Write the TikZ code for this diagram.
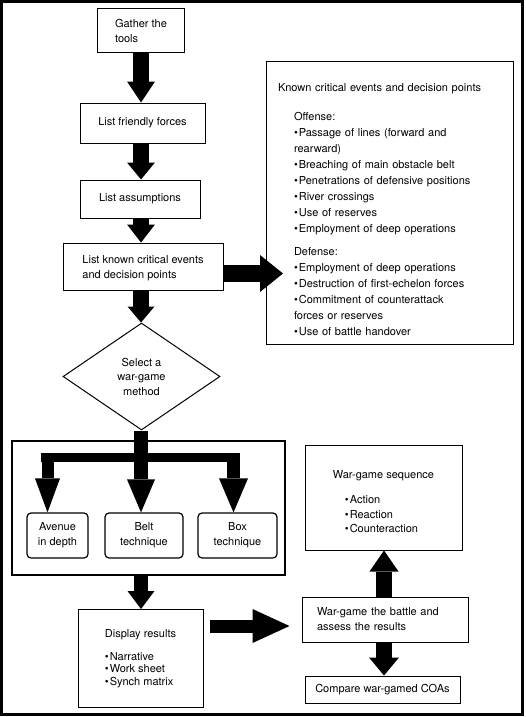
\documentclass[tikz,border=0pt]{standalone}
\usepackage{fontspec}
\setmainfont{TeX Gyre Heros}
\usepackage{tikz}
\usetikzlibrary{shapes.geometric}
\usetikzlibrary{arrows.meta, positioning}
\newcommand{\bul}{\textbullet\kern1pt}

\begin{document}
\begin{tikzpicture}[x=1pt, y=-1pt,
		every node/.style={font=\fontsize{11}{15}\selectfont},
		stepbox/.style 2 args={
			draw,
			line width=1pt,
			inner sep=0pt,
			minimum width=#1,
			minimum height=#2,
			align=left},
		techbox/.style={
			stepbox={#1}{45pt},
			rounded corners=4pt,
			line width=1.2pt,
			align=center},
		fat/.style n args={3}{
			line width=#1,
			-{Triangle[width=#2, length=#3, line width=0pt]}}
		]
		\useasboundingbox (0,0) rectangle (525,717);
		\draw[line width=3pt] (1.5,1.5) rectangle (522.5,714.5);
		% left column
		\node[stepbox={87pt}{44pt}] (gather) at (141, 30.5) {Gather the\\tools};
		\node[stepbox={125pt}{40pt}, align=center] (friendly) at (142.5, 123) {List friendly forces};
		\node[stepbox={120pt}{38pt}, align=center] (assume) at (140, 199) {List assumptions};
		\node[stepbox={160pt}{47pt}] (known) at (143, 266.5) {\rule{0pt}{12pt}List known critical events\\and decision points};
		\node[draw, line width=1pt, inner ysep=0pt, inner xsep=12pt, text width=223pt, minimum height=282pt,
			align=left, font=\fontsize{11}{16}\selectfont] (events) at (389.5, 203) {\rule{0pt}{22pt}Known critical events and decision points\\[13pt]
			\hspace*{16pt}Offense:\\
			\hspace*{16pt}\bul Passage of lines (forward and\\
			\hspace*{16pt}rearward)\\
			\hspace*{16pt}\bul Breaching of main obstacle belt\\
			\hspace*{16pt}\bul Penetrations of defensive positions\\
			\hspace*{16pt}\bul River crossings\\
			\hspace*{16pt}\bul Use of reserves\\
			\hspace*{16pt}\bul Employment of deep operations\\[7pt]
			\hspace*{16pt}Defense:\\
			\hspace*{16pt}\bul Employment of deep operations\\
			\hspace*{16pt}\bul Destruction of first-echelon forces\\
			\hspace*{16pt}\bul Commitment of counterattack\\
			\hspace*{16pt}forces or reserves\\
			\hspace*{16pt}\bul Use of battle handover};
		\node[diamond, draw, line width=1pt, inner sep=0pt, minimum width=157pt, minimum height=107pt,
			align=center, font=\fontsize{11}{14.5}\selectfont] (method) at (141.5, 376.5) {Select a\\war-game\\method};
		% war-game methods
		\node[draw, line width=1.2pt, minimum width=273pt, minimum height=134pt] (methods) at (148.5, 508) {};
		\node[techbox=61pt] (avenue) at (57.5, 535.5) {Avenue\\in depth};
		\node[techbox=78pt] (belt) at (144, 535.5) {Belt\\technique};
		\node[techbox=79pt] (boxtech) at (237.5, 535.5) {Box\\technique};
		\node[stepbox={125pt}{98pt}, font=\fontsize{11}{12.5}\selectfont] (display) at (140.5, 658.5)
			{Display results\\[10pt]\bul Narrative\\\bul Work sheet\\\bul Synch matrix};
		% right column
		\node[stepbox={157pt}{105pt}, font=\fontsize{11}{14.5}\selectfont] (sequence) at (383.5, 497.5)
			{\rule{0pt}{16pt}War-game sequence\\[11pt]\hspace*{12pt}\bul Action\\\hspace*{12pt}\bul Reaction\\\hspace*{12pt}\bul Counteraction};
		\node[draw, line width=1pt, inner ysep=0pt, inner xsep=15pt, text width=136pt, minimum height=45pt,
			align=left] (wargame) at (385, 619.5) {War-game the battle and\\assess the results};
		\node[stepbox={155pt}{27pt}, align=center] (compare) at (382.5, 689.5) {Compare war-gamed COAs};
		% block arrows
		\coordinate (col) at (141, 0);
		\coordinate (col2) at (384, 0);
		\coordinate (evtip) at (283, 273.5);
		\coordinate (res) at (0, 626);
		\coordinate (barL) at (41, 457.5);
		\coordinate (barR) at (240, 457.5);
		\coordinate (forkL) at (47.5, 453);
		\coordinate (forkR) at (233.5, 453);
		\draw[fat={16pt}{28pt}{21pt}] (col |- gather.south) -- (col |- friendly.north);
		\draw[fat={16pt}{28pt}{17pt}] (col |- friendly.south) -- (col |- assume.north);
		\draw[fat={16pt}{28pt}{18pt}] (col |- assume.south) -- (col |- known.north);
		\draw[fat={16pt}{27pt}{16pt}] (col |- known.south) -- (col |- method.north);
		\draw[fat={17pt}{37pt}{23pt}] (known.east |- evtip) -- (evtip);
		\draw[fat={14pt}{28pt}{33pt}] (col |- method.south) -- (col |- belt.north);
		\draw[line width=9pt] (barL) -- (barR);
		\draw[fat={12pt}{25pt}{34pt}] (forkL) -- (forkL |- avenue.north);
		\draw[fat={13pt}{29pt}{34pt}] (forkR) -- (forkR |- boxtech.north);
		\draw[fat={14pt}{27pt}{18pt}] (col |- methods.south) -- (col |- display.north);
		\draw[fat={13pt}{34pt}{37pt}, shorten <=6pt, shorten >=12pt] (display.east |- res) -- (wargame.west |- res);
		\draw[fat={16pt}{29pt}{21pt}] (col2 |- wargame.north) -- (col2 |- sequence.south);
		\draw[fat={16pt}{30pt}{18pt}] (col2 |- wargame.south) -- (col2 |- compare.north);
\end{tikzpicture}
\end{document}
